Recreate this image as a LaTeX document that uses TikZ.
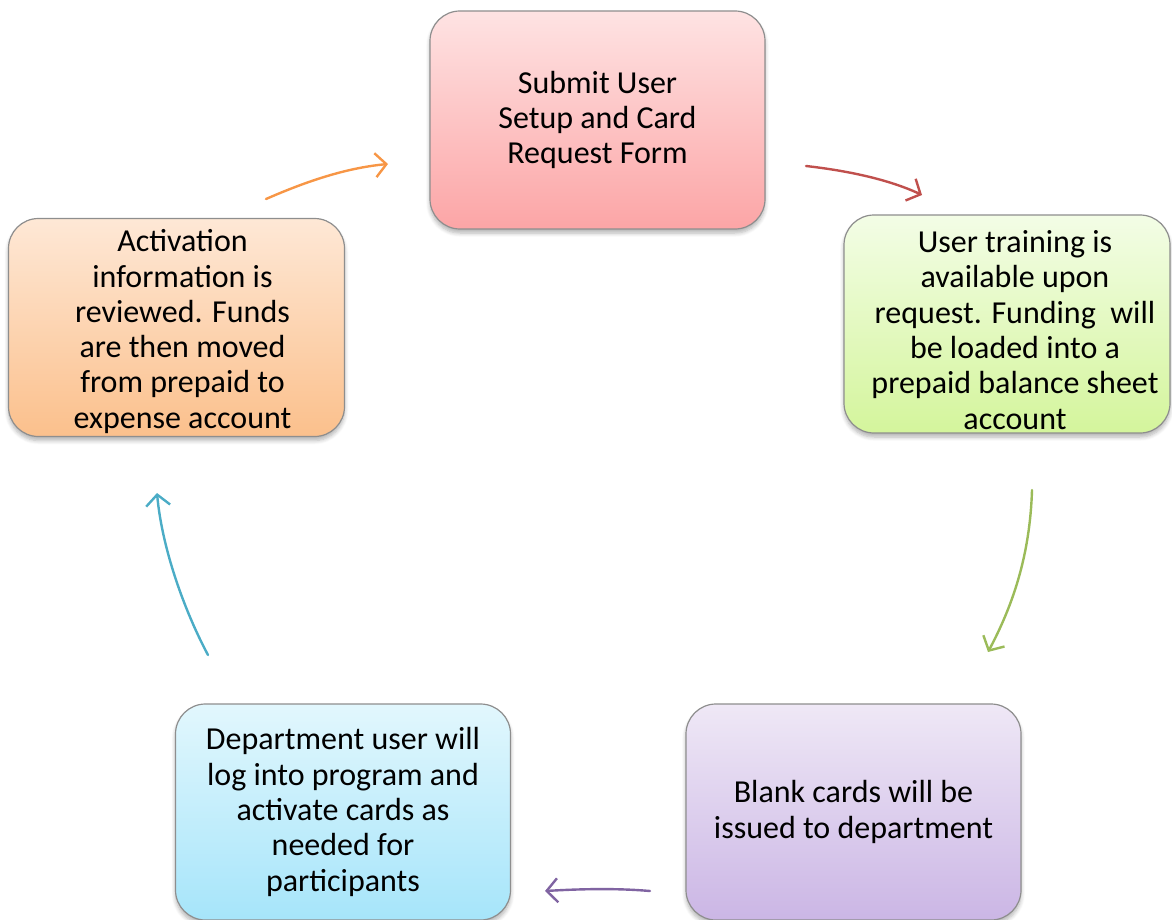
\documentclass[tikz,border=0pt]{standalone}
\usepackage{fontspec}
\setmainfont{Carlito}
\usetikzlibrary{arrows.meta,shadows.blur}

\definecolor{edgegray}{HTML}{8E8E8E}
\definecolor{arrOrange}{HTML}{F79646}
\definecolor{arrRed}{HTML}{C0504D}
\definecolor{arrGreen}{HTML}{9BBB59}
\definecolor{arrPurple}{HTML}{8064A2}
\definecolor{arrCyan}{HTML}{4BACC6}
% box gradients
\definecolor{redTop}{HTML}{FEE3E3}    \definecolor{redBot}{HTML}{FCA5A6}
\definecolor{greenTop}{HTML}{F3FDE6}  \definecolor{greenBot}{HTML}{D4F59C}
\definecolor{purpleTop}{HTML}{EFE8F6} \definecolor{purpleBot}{HTML}{CBB6E5}
\definecolor{cyanTop}{HTML}{E2F7FD}   \definecolor{cyanBot}{HTML}{A6E5FA}
\definecolor{orangeTop}{HTML}{FEE8D6} \definecolor{orangeBot}{HTML}{FBC08C}

\tikzset{
  stagetext/.style={align=center, inner sep=0pt,
    font=\fontsize{32}{35.3}\selectfont},
  stagebox/.style={stagetext,
    draw=edgegray, line width=1.2pt, rounded corners=30pt,
    minimum height=218pt, inner sep=4pt,
    blur shadow={shadow xshift=0pt, shadow yshift=-4pt,
      shadow blur radius=4pt, shadow opacity=30, shadow blur steps=6}
  },
  flow/.style={line width=2.4pt, line cap=round,
    -{Straight Barb[length=11pt,width=24pt,line width=2.4pt]}},
}

\begin{document}
\begin{tikzpicture}[x=1pt,y=-1pt]
\useasboundingbox (0,0) rectangle (1172,920);

% process stages
\node[stagebox, minimum width=335pt, top color=redTop, bottom color=redBot]
  (submit) at (597.5,120) {Submit User\\Setup and Card\\Request Form};
\node[stagebox, minimum width=326pt, top color=greenTop, bottom color=greenBot]
  (training) at (1007,324) {};
\node[stagetext] (trainingtext) at ([xshift=8pt,yshift=-6pt]training.center)
  {User training is\\available upon\\request. Funding~ will\\be loaded into a\\prepaid balance sheet\\account};
\node[stagebox, minimum width=335pt, minimum height=216pt, top color=purpleTop, bottom color=purpleBot]
  (blank) at (853.5,812) {Blank cards will be\\issued to department};
\node[stagebox, minimum width=335pt, minimum height=216pt, top color=cyanTop, bottom color=cyanBot]
  (activate) at (343,812) {Department user will\\log into program and\\activate cards as\\needed for\\participants};
\node[stagebox, minimum width=336pt, top color=orangeTop, bottom color=orangeBot]
  (review) at (176.5,327.5) {};
\node[stagetext] (reviewtext) at ([xshift=6pt,yshift=-4pt]review.center)
  {Activation\\information is\\reviewed. Funds\\are then moved\\from prepaid to\\expense account};

% connector end points between the stages
\coordinate (o1) at (266,199);  \coordinate (o2) at (388,164);
\coordinate (r1) at (806,166);  \coordinate (r2) at (922,195);
\coordinate (g1) at (1032,490); \coordinate (g2) at (988,652);
\coordinate (p1) at (650,891);  \coordinate (p2) at (545,891);
\coordinate (c1) at (208,655);  \coordinate (c2) at (157,493);

% cycle arrows
\draw[flow, arrOrange] (o1) .. controls (305,182) and (345,168) .. (o2);
\draw[flow, arrRed]    (r1) .. controls (850,171) and (890,180) .. (r2);
\draw[flow, arrGreen]  (g1) .. controls (1030,555) and (1013,605) .. (g2);
\draw[flow, arrPurple] (p1) .. controls (615,888) and (580,889) .. (p2);
\draw[flow, arrCyan]   (c1) .. controls (184,610) and (162,548) .. (c2);
\end{tikzpicture}
\end{document}
